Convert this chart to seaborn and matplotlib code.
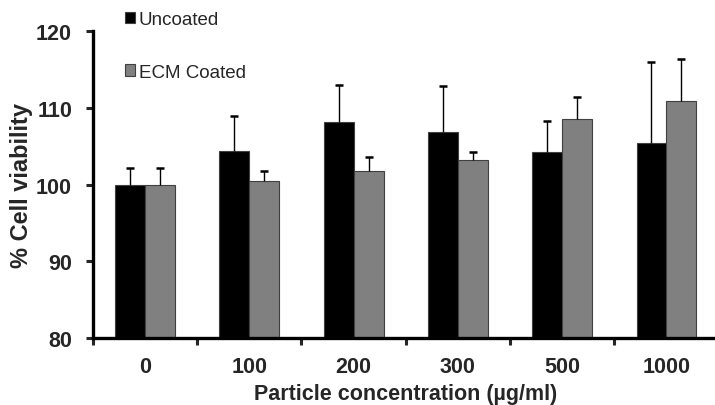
import numpy as np
import pandas as pd
import matplotlib
matplotlib.use('Agg')
import matplotlib.pyplot as plt
import seaborn as sns
from matplotlib.ticker import FixedLocator

konsantrasyon = ['0', '100', '200', '300', '500', '1000']
uncoated = [100.0, 104.4, 108.2, 106.8, 104.3, 105.4]
uncoated_err = [2.2, 4.5, 4.8, 6.1, 4.0, 10.6]
ecm = [100.0, 100.5, 101.8, 103.2, 108.5, 110.9]
ecm_err = [2.2, 1.3, 1.8, 1.0, 2.9, 5.5]
seriler = ['Uncoated', 'ECM Coated']
renkler = ['#000000', '#808080']

sns.set_style('white')
plt.rcParams['font.family'] = ['Liberation Sans', 'DejaVu Sans']

df = pd.DataFrame({
    'konsantrasyon': konsantrasyon * 2,
    'deger': uncoated + ecm,
    'seri': [seriler[0]] * 6 + [seriler[1]] * 6,
})

fig, ax = plt.subplots(figsize=(7.15, 4.06), dpi=100)
fig.subplots_adjust(left=0.13, right=1.005, top=0.921, bottom=0.165)

sns.barplot(data=df, x='konsantrasyon', y='deger', hue='seri',
            palette=renkler, width=0.574, edgecolor='#404040', linewidth=0.8,
            errorbar=None, ax=ax, legend=True)

# hata cubuklari (sadece yukari)
hatalar = {seriler[0]: uncoated_err, seriler[1]: ecm_err}
degerler = {seriler[0]: uncoated, seriler[1]: ecm}
for cont, seri in zip(ax.containers, seriler):
    xs = [p.get_x() + p.get_width() / 2 for p in cont.patches]
    err = hatalar[seri]
    _, caps, _ = ax.errorbar(xs, degerler[seri], yerr=[np.zeros(len(err)), err],
                             fmt='none', ecolor='#000000', elinewidth=1.0,
                             capsize=3, capthick=1.8)
    caps[0].set_visible(False)

ax.set_ylim(80, 120)
ax.set_xlim(-0.5, 5.5)
ax.set_yticks([80, 90, 100, 110, 120])
ax.tick_params(axis='y', direction='out', length=5, width=2.2, labelsize=15.5, pad=10, left=True)
ax.tick_params(axis='x', which='major', length=0, labelsize=15.5, pad=13)
ax.xaxis.set_minor_locator(FixedLocator(np.arange(-0.5, 5.5, 1.0)))
ax.tick_params(axis='x', which='minor', direction='out', length=5, width=2.2, bottom=True)
for lbl in ax.get_xticklabels() + ax.get_yticklabels():
    lbl.set_fontweight('bold')

for s in ['top', 'right']:
    ax.spines[s].set_visible(False)
for s in ['left', 'bottom']:
    ax.spines[s].set_linewidth(2.4)
    ax.spines[s].set_color('black')

ax.set_xlabel('Particle concentration (µg/ml)', fontsize=15.5, fontweight='bold')
ax.set_ylabel('% Cell viability', fontsize=17, fontweight='bold')
ax.xaxis.set_label_coords(0.5, -0.148)
ax.yaxis.set_label_coords(-0.096, 0.5)

ax.legend(loc='upper left', bbox_to_anchor=(0.172, 0.975), bbox_transform=fig.transFigure,
          frameon=False, fontsize=13.5, labelspacing=1.9, handlelength=0.55,
          handleheight=0.55, handletextpad=0.2, borderaxespad=0.0, borderpad=0.1)

plt.savefig('out.png', dpi=100)
plt.close()
